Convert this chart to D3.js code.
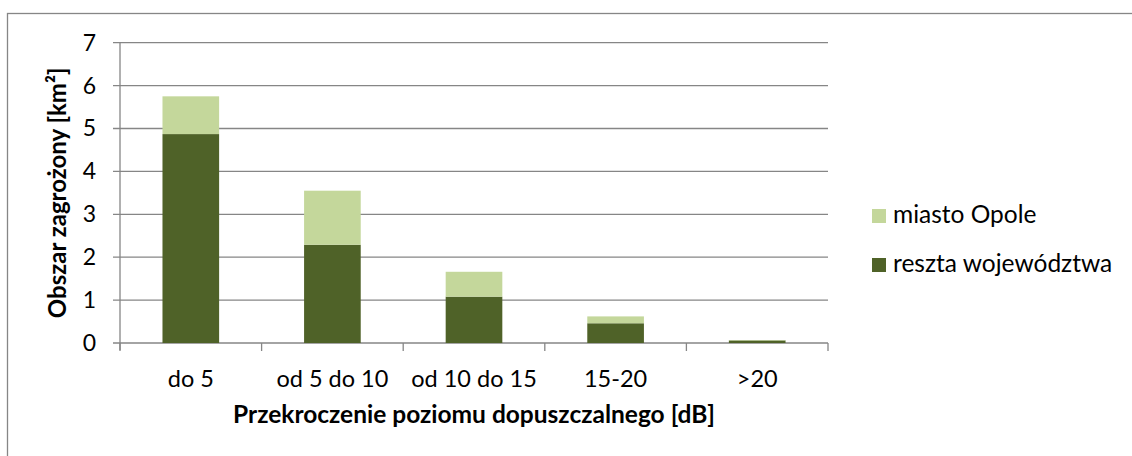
<!DOCTYPE html>
<html>
<head>
<meta charset="utf-8">
<style>
  body { margin: 0; background: #fff; }
  text { font-family: Lato, "Open Sans", sans-serif; fill: #000; }
</style>
<title>Obszar zagrożony</title>
</head>
<body>
<script src="https://cdn.jsdelivr.net/npm/d3@7/dist/d3.min.js"></script>
<script>
  // data
  const categories = ["do 5", "od 5 do 10", "od 10 do 15", "15-20", ">20"];
  const resztaWojewodztwa = [4.87, 2.29, 1.08, 0.46, 0.06];
  const miastoOpole = [0.88, 1.26, 0.58, 0.16, 0.01];
  const seriesNames = ["miasto Opole", "reszta województwa"];
  const yTicks = [0, 1, 2, 3, 4, 5, 6, 7];

  const W = 1132, H = 456;
  const margin = { top: 42.7, left: 120, right: 1132 - 828, bottom: 456 - 343 };
  const width = W - margin.left - margin.right;
  const height = H - margin.top - margin.bottom;

  const svg = d3.select("body").append("svg")
    .attr("width", W)
    .attr("height", H);

  // outer chart border (only left/top visible in the picture)
  svg.append("rect")
    .attr("x", 7.5).attr("y", 13.5)
    .attr("width", 1300).attr("height", 600)
    .attr("fill", "none")
    .attr("stroke", "#868686")
    .attr("stroke-width", 1.3);

  const g = svg.append("g")
    .attr("transform", `translate(${margin.left},${margin.top})`);

  const x = d3.scaleBand().domain(categories).range([0, width]).paddingInner(0.6).paddingOuter(0.3);
  const xTicks = d3.scaleBand().domain(categories).range([0, width]);
  const y = d3.scaleLinear().domain([0, 7]).range([height, 0]);

  // gridlines (extend left as tick marks)
  g.selectAll(".grid")
    .data(yTicks)
    .enter().append("line")
    .attr("x1", -7).attr("x2", width)
    .attr("y1", d => y(d)).attr("y2", d => y(d))
    .attr("stroke", "#868686")
    .attr("stroke-width", 1.3);

  // stacked bars
  const stackData = categories.map((c, i) => ({ cat: c, reszta: resztaWojewodztwa[i], miasto: miastoOpole[i] }));
  const stacked = d3.stack().keys(["reszta", "miasto"])(stackData);
  const colors = { reszta: "#4f6228", miasto: "#c4d79b" };

  g.selectAll(".series")
    .data(stacked)
    .enter().append("g")
    .attr("fill", d => colors[d.key])
    .selectAll("rect")
    .data(d => d)
    .enter().append("rect")
    .attr("x", d => x(d.data.cat))
    .attr("y", d => y(d[1]))
    .attr("width", x.bandwidth())
    .attr("height", d => y(d[0]) - y(d[1]));

  // y axis line
  g.append("line")
    .attr("x1", 0).attr("x2", 0)
    .attr("y1", 0).attr("y2", height + 7)
    .attr("stroke", "#868686")
    .attr("stroke-width", 1.3);

  // x axis ticks (category boundaries)
  const bounds = categories.map(c => xTicks(c)).concat([width]);
  g.selectAll(".xtick")
    .data(bounds)
    .enter().append("line")
    .attr("x1", d => d).attr("x2", d => d)
    .attr("y1", height).attr("y2", height + 8)
    .attr("stroke", "#868686")
    .attr("stroke-width", 1.3);

  // y tick labels
  g.selectAll(".ylab")
    .data(yTicks)
    .enter().append("text")
    .attr("x", -24)
    .attr("y", d => y(d) + 8)
    .attr("text-anchor", "end")
    .style("font-size", "23px")
    .text(d => d);

  // x tick labels
  g.selectAll(".xlab")
    .data(categories)
    .enter().append("text")
    .attr("x", d => xTicks(d) + xTicks.bandwidth() / 2)
    .attr("y", height + 43.7)
    .attr("text-anchor", "middle")
    .style("font-size", "23.5px")
    .text(d => d);

  // axis titles
  g.append("text")
    .attr("x", width / 2)
    .attr("y", height + 80)
    .attr("text-anchor", "middle")
    .style("font-size", "24.5px")
    .style("font-weight", "bold")
    .text("Przekroczenie poziomu dopuszczalnego [dB]");

  svg.append("text")
    .attr("transform", `translate(66,${margin.top + height / 2}) rotate(-90)`)
    .attr("text-anchor", "middle")
    .style("font-size", "24px")
    .style("font-weight", "bold")
    .text("Obszar zagrożony [km²]");

  // legend
  const legend = svg.append("g").attr("transform", "translate(872,209)");
  const legendColors = [colors.miasto, colors.reszta];
  seriesNames.forEach((name, i) => {
    const row = legend.append("g").attr("transform", `translate(0,${i * 49})`);
    row.append("rect")
      .attr("width", 14).attr("height", 14)
      .attr("fill", legendColors[i]);
    row.append("text")
      .attr("x", 21).attr("y", 14)
      .style("font-size", "24.5px")
      .text(name);
  });
</script>
</body>
</html>
